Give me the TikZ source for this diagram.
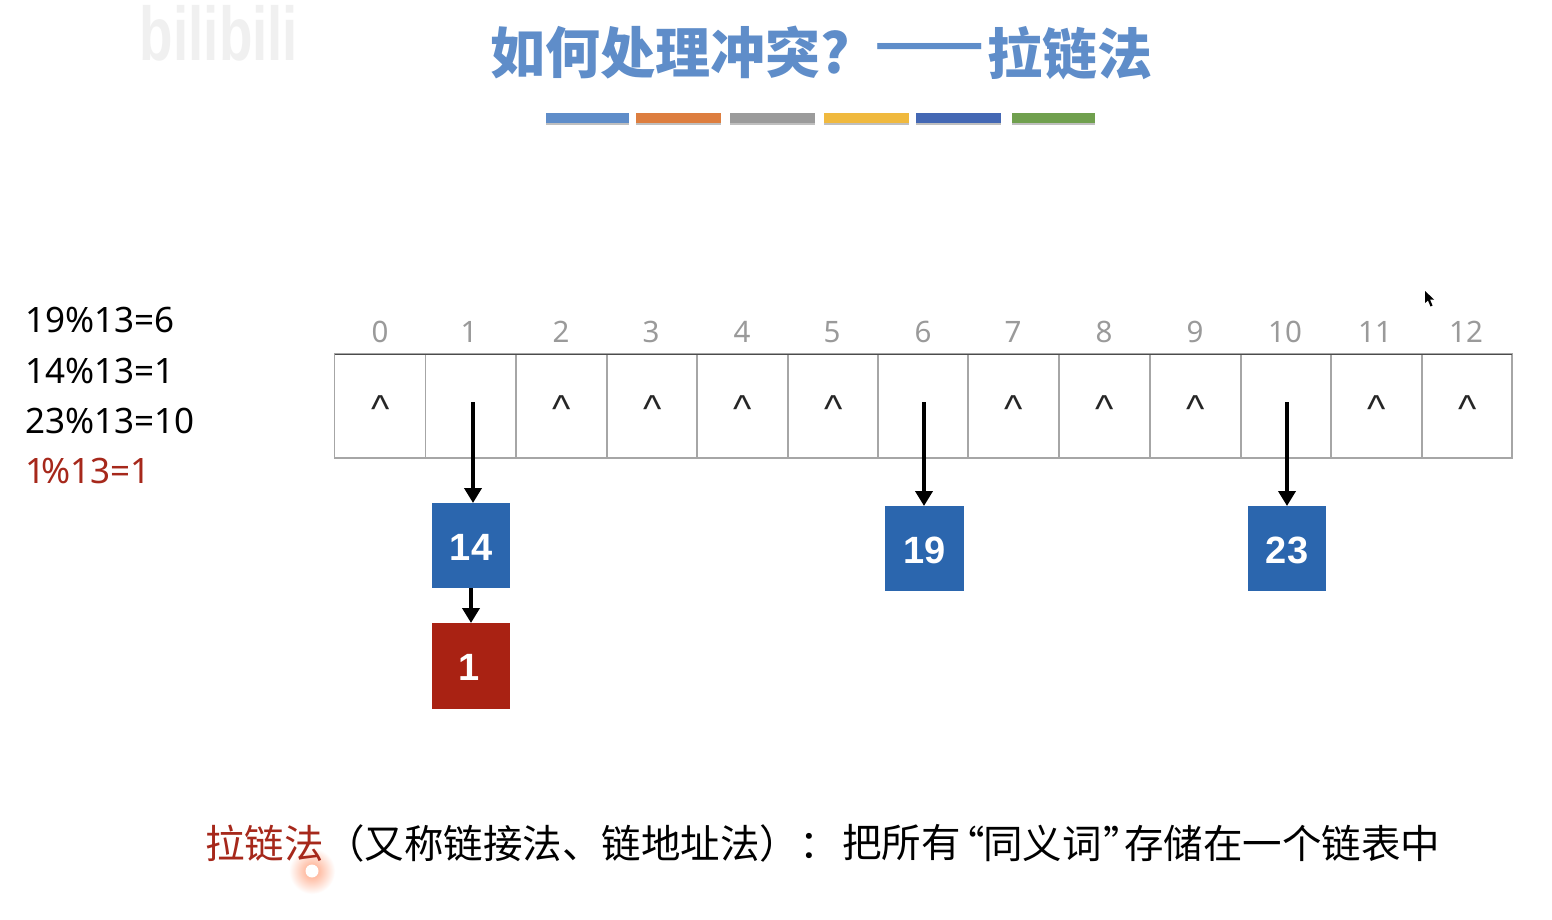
\documentclass[tikz,border=0pt]{standalone}
\usepackage{fontspec}
\setmainfont{Noto Sans}
\newfontfamily\cjk{Noto Sans CJK SC}
\newfontfamily\heavy{Liberation Sans}
\usetikzlibrary{arrows.meta,calc}
\definecolor{titleblue}{HTML}{5F8DC9}
\definecolor{boxblue}{HTML}{2B66AE}
\definecolor{boxred}{HTML}{A92213}
\definecolor{textred}{HTML}{A6281B}
\definecolor{idxgray}{HTML}{9A9A9A}
\definecolor{cellgray}{HTML}{A6A6A6}
\newcommand{\fs}[1]{\fontsize{#1}{#1}\selectfont}
\newcommand{\nudge}[1]{\raisebox{-1.5pt}[\height][\depth]{#1}}
\tikzset{
  x=1pt,y=-1pt,
  cellbox/.style={draw=cellgray,line width=1.3pt,rectangle,inner sep=0pt,outer sep=0pt,minimum height=104pt},
  idxlabel/.style={text=idxgray,inner sep=0pt,anchor=base,font=\fs{29.5}},
  caret/.style={text=black!85,inner sep=0pt,anchor=base,font=\heavy\fs{39}},
  hashline/.style={inner sep=0pt,anchor=west,font=\fs{35}},
  valbox/.style={rectangle,inner sep=0pt,outer sep=0pt,minimum width=78.5pt,text=white,font=\heavy\fs{38}\bfseries},
  ptr/.style={-{Triangle[length=15pt,width=17pt]},line width=3.8pt,black},
  titletext/.style={inner sep=0pt,anchor=west,text=titleblue,font=\cjk\fs{55}\bfseries},
  bodytext/.style={inner sep=0pt,anchor=west,font=\cjk\fs{39.5}},
}
\begin{document}
\begin{tikzpicture}
\useasboundingbox[fill=white] (0,0) rectangle (1552,920);

% watermark
\node[inner sep=0pt,text=black!6,font=\heavy\fs{76}\bfseries,xscale=.72] (wm) at (219,33) {bilibili};

% title
\node[titletext] (title) at (490,53) {如何处理冲突?};
\node[titletext,xscale=1.17] (dash) at (874,53) {——};
\node[titletext] (title2) at (987,53) {拉链法};

% colour bars
\foreach \a/\b/\c in {546/629/5F8DC9,636/721/DD7E3F,730/815/9B9B9B,824/909/F0B93E,916/1001/4468B4,1012/1095/70A04E}{
  \fill[black!25] (\a,116) rectangle (\b,125.5);
  \definecolor{barc}{HTML}{\c}
  \fill[barc] (\a,113) rectangle (\b,123);
}

% left list
\node[hashline] (h1) at (25,320) {19\%13=6};
\node[hashline] (h2) at (25,371) {14\%13=1};
\node[hashline] (h3) at (25,421) {23\%13=10};
\node[hashline,text=textred] (h4) at (25,471) {1\kern-4pt\%13=1};

% cells
\foreach \n/\l/\r in {0/334.5/425.5,1/425.5/516,2/516/607,3/607/697,4/697/788,5/788/878,6/878/968,7/968/1059,8/1059/1150,9/1150/1241,10/1241/1331,11/1331/1422,12/1422/1512}{
  \pgfmathsetmacro{\w}{\r-\l}
  \pgfmathsetmacro{\m}{(\r+\l)/2}
  \node[cellbox,minimum width=\w pt] (c\n) at (\m,406) {};
}
\draw[line width=1pt,black!70] (c0.north west) -- (c12.north east);

% index labels
\foreach \n/\x in {0/380,1/469,2/561,3/651,4/742,5/832,6/923,7/1013,8/1104,9/1195,10/1285,11/1375,12/1466}{
  \node[idxlabel] (i\n) at (\x,342.5) {\n};
}

% carets
\foreach \x [count=\k] in {381,562,653,743,834,1014,1105,1196,1377,1468}{
  \node[caret] (k\k) at (\x,422) {\^{}};
}

% value boxes
\node[valbox,fill=boxblue,minimum height=85pt] (b14) at (471,545.5) {\nudge{14}};
\node[valbox,fill=boxblue,minimum height=85pt] (b19) at (924.5,548.5) {\nudge{19}};
\node[valbox,fill=boxblue,minimum height=85pt] (b23) at (1287,548.5) {\nudge{23}};
\node[valbox,fill=boxred,minimum height=86pt] (b1) at (471,666) {\nudge{\kern-3pt 1}};

% pointers
\coordinate (p14) at (473,402);
\coordinate (p19) at (924,402);
\coordinate (p23) at (1287,402);
\draw[ptr] (p14) -- (p14 |- b14.north);
\draw[ptr] (p19) -- (p19 |- b19.north);
\draw[ptr] (p23) -- (p23 |- b23.north);
\draw[ptr] (b14.south) -- (b1.north);

% laser pointer
\shade[inner color=red!45!orange!50,outer color=white] (312,871) circle (23);
\fill[white] (312,871) circle (6.5);

% bottom line
\node[bodytext,text=textred] (t1) at (205,843) {拉链法};
\node[bodytext] (t2) at (325,843) {（又称链接法、链地址法）：};
\node[bodytext] (t3) at (842,843) {把所有};
\node[bodytext] (q1) at (945,843) {“};
\node[bodytext] (t4) at (983,843) {同义词};
\node[bodytext] (q2) at (1103,843) {”};
\node[bodytext] (t5) at (1124,843) {存储在一个链表中};

% cursor
\fill[black] (1425,291) -- (1425,303) -- (1428,300.5) -- (1430.5,306.5) -- (1432.5,305.5) -- (1430,299.5) -- (1434,299.5) -- cycle;
\end{tikzpicture}
\end{document}
